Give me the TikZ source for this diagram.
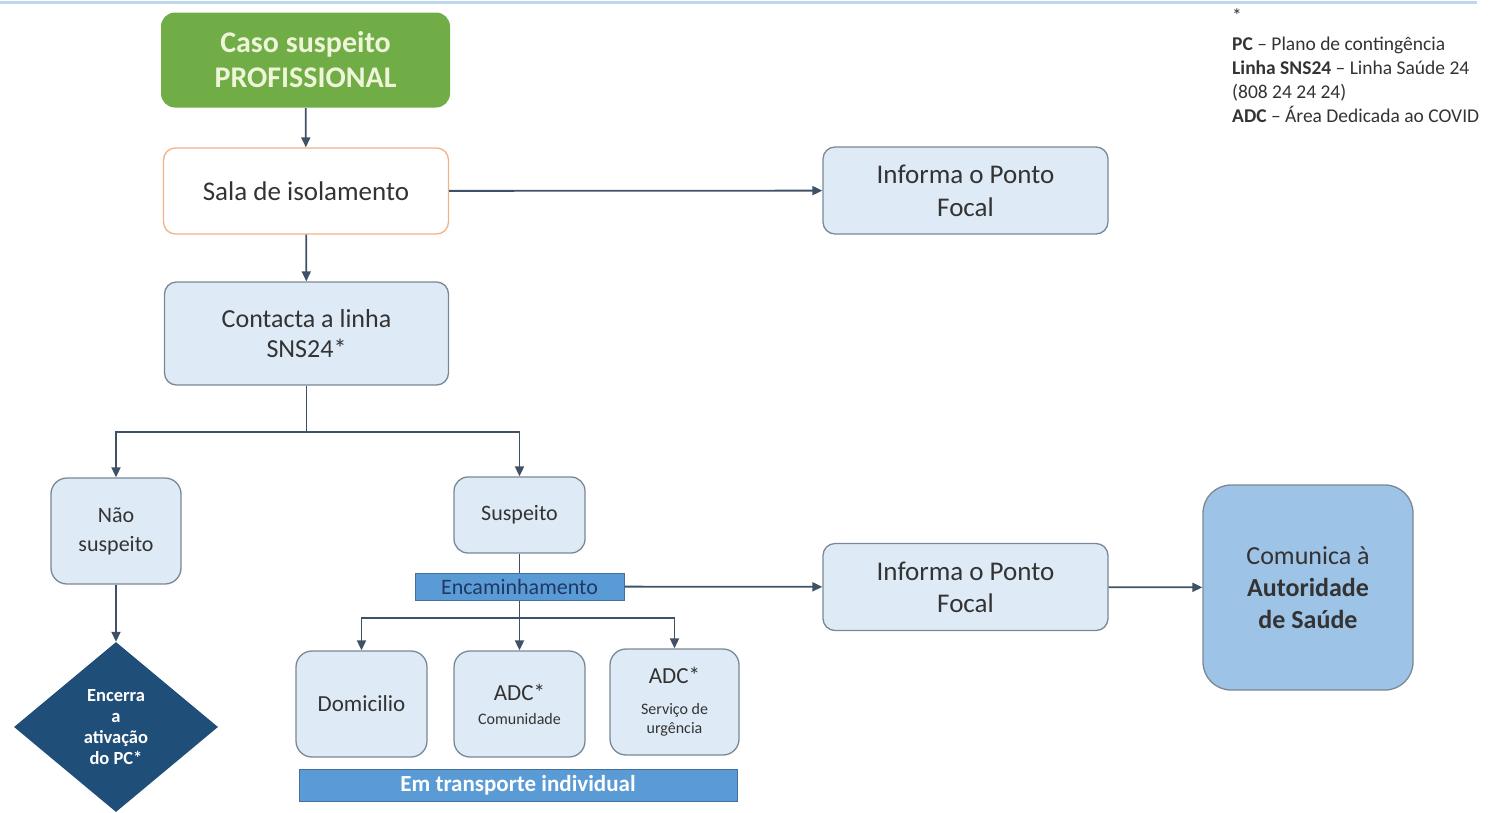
\documentclass[tikz,border=0pt]{standalone}
\usepackage{fontspec}
\setmainfont{Carlito}
\usetikzlibrary{shapes.geometric,arrows.meta}
\definecolor{lightbox}{HTML}{DEEBF7}
\definecolor{boxline}{HTML}{7A8896}
\definecolor{conn}{HTML}{3F5166}
\definecolor{midblue}{HTML}{5B9BD5}
\definecolor{midline}{HTML}{41719C}
\definecolor{combox}{HTML}{9DC3E6}
\definecolor{darkdiam}{HTML}{1F4E79}
\definecolor{greenbox}{HTML}{70AD47}
\definecolor{greentext}{HTML}{EEF5D8}
\definecolor{orangeline}{HTML}{F4B183}
\definecolor{topline}{HTML}{BDD7EE}
\definecolor{txt}{HTML}{333333}
\definecolor{enctext}{HTML}{1F3864}
\newcommand{\fs}[2]{\fontsize{#1}{#2}\selectfont}
\tikzset{
 base/.style={draw=boxline, line width=1.3pt, rounded corners=12pt, align=center, text=txt, inner sep=0pt, anchor=center},
 bluebox/.style={base, fill=lightbox},
 arr/.style={draw=conn, line width=1.8pt, -{Triangle[length=10pt,width=9pt]}},
 plain/.style={draw=conn, line width=1.8pt},
 bar/.style={draw=midline, line width=1pt, fill=midblue, inner sep=0pt, align=center},
}
\begin{document}
\begin{tikzpicture}[x=1pt,y=-1pt]
\useasboundingbox (0,0) rectangle (1501,812);
\draw[topline, line width=3pt] (0,2) -- (1477,2);

\node[base, draw=none, fill=greenbox, rounded corners=14pt, minimum width=289pt, minimum height=95pt, text=greentext, font=\fs{30}{35}\bfseries] (green) at (305.5,60) {Caso suspeito\\PROFISSIONAL};
\node[base, fill=white, draw=orangeline, minimum width=285pt, minimum height=86pt, font=\fs{27}{32}] (sala) at (306,191) {Sala de isolamento};
\node[bluebox, minimum width=285pt, minimum height=87pt, font=\fs{27}{33}] (inf1) at (965.5,190.5) {Informa o Ponto\\Focal};
\node[bluebox, minimum width=284pt, minimum height=103pt, font=\fs{26}{30}] (cont) at (306.5,333.5) {Contacta a linha\\SNS24*};
\node[bluebox, minimum width=130pt, minimum height=106pt, rounded corners=16pt, font=\fs{22}{29}] (nao) at (116,531) {Não\\suspeito};
\node[bluebox, minimum width=131pt, minimum height=76pt, rounded corners=14pt, font=\fs{22}{28}] (susp) at (519.5,515) {Suspeito};
\node[bar, minimum width=209pt, minimum height=27pt, text=enctext, font=\fs{22}{26}] (enc) at (519.5,586.5) {Encaminhamento};
\node[bluebox, minimum width=285pt, minimum height=87pt, font=\fs{27}{32}] (inf2) at (965.5,587) {Informa o Ponto\\Focal};
\node[base, fill=combox, minimum width=210pt, minimum height=205pt, rounded corners=28pt, font=\fs{26}{32}] (com) at (1308,587.5) {Comunica à\\\textbf{Autoridade}\\\textbf{de Saúde}};

\node[bluebox, minimum width=131pt, minimum height=106pt, rounded corners=16pt, font=\fs{23}{28}] (dom) at (361.5,704) {Domicilio};
\node[bluebox, minimum width=131pt, minimum height=106pt, rounded corners=16pt, font=\fs{16}{19}] (adc1) at (519.5,704) {{\fs{23}{28}ADC*}\\[5pt]Comunidade};
\node[bluebox, minimum width=129pt, minimum height=106pt, rounded corners=16pt, font=\fs{16}{19}] (adc2) at (674.5,702) {{\fs{23}{28}ADC*}\\[12pt]Serviço de\\urgência};
\node[bar, minimum width=438pt, minimum height=32pt, text=white, font=\fs{23}{28}\bfseries] (trans) at (518,785) {Em transporte individual};

\node[diamond, fill=darkdiam, draw=none, minimum width=204pt, minimum height=170pt, inner sep=0pt, align=center, text=white, font=\fs{18.5}{21}\bfseries] (diam) at (116,727) {Encerra\\a\\ativação\\do PC*};

\node[anchor=north west, align=left, inner sep=0pt, text=txt, font=\fs{19.5}{24}] (legend) at (1232,8) {*\\[4pt]\textbf{PC} – Plano de contingência\\\textbf{Linha SNS24} – Linha Saúde 24\\(808 24 24 24)\\\textbf{ADC} – Área Dedicada ao COVID};

\coordinate (j1) at (306.5,432);
\coordinate (j2) at (519.5,618);
\draw[arr] (green) -- (sala);
\draw[arr] (sala) -- (inf1);
\draw[arr] (sala) -- (cont);
\draw[plain] (cont) -- (j1);
\draw[arr] (j1) -| (nao.north);
\draw[arr] (j1) -| (susp.north);
\draw[arr] (nao) -- (diam);
\draw[plain] (susp) -- (enc);
\draw[arr] (enc) -- (inf2);
\draw[arr] (inf2) -- (com);
\draw[plain] (enc) -- (j2);
\draw[arr] (j2) -| (dom.north);
\draw[arr] (j2) -- (adc1.north);
\draw[arr] (j2) -| (adc2.north);
\end{tikzpicture}
\end{document}
